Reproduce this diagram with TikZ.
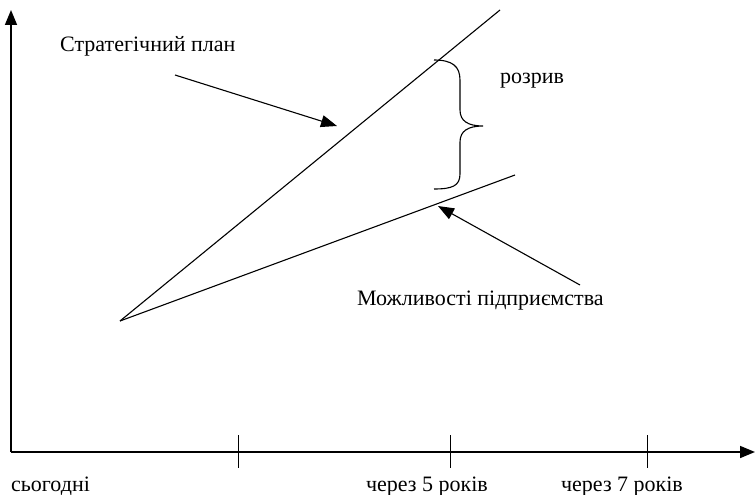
\documentclass[tikz,border=0pt]{standalone}
\usepackage{fontspec}
\setmainfont{Liberation Serif}
\usetikzlibrary{arrows.meta}
\begin{document}
\begin{tikzpicture}[x=1pt,y=-1pt,
  axis/.style={line width=1.6pt,-{Triangle[length=15pt,width=12pt]}},
  ln/.style={line width=1.1pt},
  ptr/.style={line width=1.1pt,-{Triangle[length=16pt,width=12pt]}},
  lbl/.style={font=\fontsize{22}{26}\selectfont,inner sep=0pt}]
\useasboundingbox (0,0) rectangle (755,495);
\coordinate (O) at (11,452);
\coordinate (Ytop) at (11,10);
\coordinate (Xend) at (755,452);
\draw[axis] (O) -- (Ytop);
\draw[axis] (O) -- (Xend);
\foreach \x/\n in {238/t1,450/t2,647/t3}{
  \coordinate (\n a) at (\x,435); \coordinate (\n b) at (\x,468);
  \draw[line width=1pt] (\n a) -- (\n b);}
\node[lbl,anchor=base west] (today) at (11,491) {сьогодні};
\node[lbl,anchor=base] (y5) at (427,491) {через 5 років};
\node[lbl,anchor=base] (y7) at (622,491) {через 7 років};
\coordinate (S) at (120,321);
\coordinate (P) at (500,10);
\coordinate (C) at (515,175);
\draw[ln] (S) -- (P);
\draw[ln] (S) -- (C);
\node[lbl,anchor=base west] (plan) at (60,52) {Стратегічний план};
\node[lbl,anchor=base west] (cap) at (357,305) {Можливості підприємства};
\node[lbl,anchor=base west] (gap) at (500,84) {розрив};
\coordinate (a1s) at (175,75); \coordinate (a1e) at (337,126);
\coordinate (a2s) at (580,285); \coordinate (a2e) at (438,206);
\draw[ptr] (a1s) -- (a1e);
\draw[ptr] (a2s) -- (a2e);
\coordinate (bt) at (434,60); \coordinate (bb) at (434,189); \coordinate (bm) at (483,126);
\draw[line width=1.1pt] (bt) .. controls (452,60) and (460,66) .. (460,80) -- (460,110)
  .. controls (460,121) and (468,126) .. (bm)
  .. controls (468,126) and (460,131) .. (460,142) -- (460,174)
  .. controls (460,186) and (452,189) .. (bb);
\end{tikzpicture}
\end{document}
